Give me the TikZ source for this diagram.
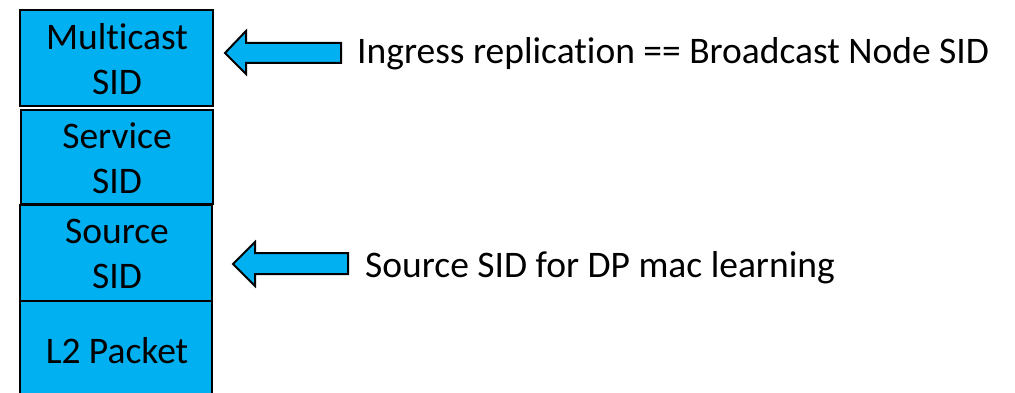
\documentclass[tikz,border=0pt]{standalone}
\usepackage{fontspec}
\setmainfont[Ligatures={NoCommon,NoRare,NoDiscretionary}]{Carlito}
\definecolor{sidblue}{HTML}{00B0F0}
\begin{document}
\begin{tikzpicture}[x=1pt,y=-1pt,
  layer/.style={draw=black,line width=2pt,fill=sidblue},
  lbl/.style={font=\fontsize{37.5}{45}\selectfont,align=center,inner sep=0pt},
  blockarrow/.style={draw=black,line width=2pt,fill=sidblue,line join=miter},
  note/.style={font=\fontsize{37.5}{45}\selectfont,anchor=base west,inner sep=0pt}]
\useasboundingbox (0,0) rectangle (1015,393);
% header stack
\draw[layer] (20,10) rectangle (213,106);
\draw[layer] (21,110) rectangle (213,204);
\draw[layer] (20,205) rectangle (212,301);
\draw[layer] (20,301) rectangle (212,410);
\node[lbl] (mc) at (117,59) {Multicast\\SID};
\node[lbl] (svc) at (117,158) {Service\\SID};
\node[lbl] (src) at (117,254) {Source\\SID};
\node[lbl] (l2) at (117,351) {L2 Packet};
% annotations
\node[note] (t1) at (357,64) {Ingress replication == Broadcast Node SID};
\node[note] (t2) at (365,277) {Source SID for DP mac learning};
% block arrows
\draw[blockarrow] (225,53) -- (246,31) -- (246,43) -- (341,43) -- (341,63) -- (246,63) -- (246,74) -- cycle;
\draw[blockarrow] (233,264) -- (255,242) -- (255,253) -- (348,253) -- (348,274) -- (255,274) -- (255,286) -- cycle;
\end{tikzpicture}
\end{document}
